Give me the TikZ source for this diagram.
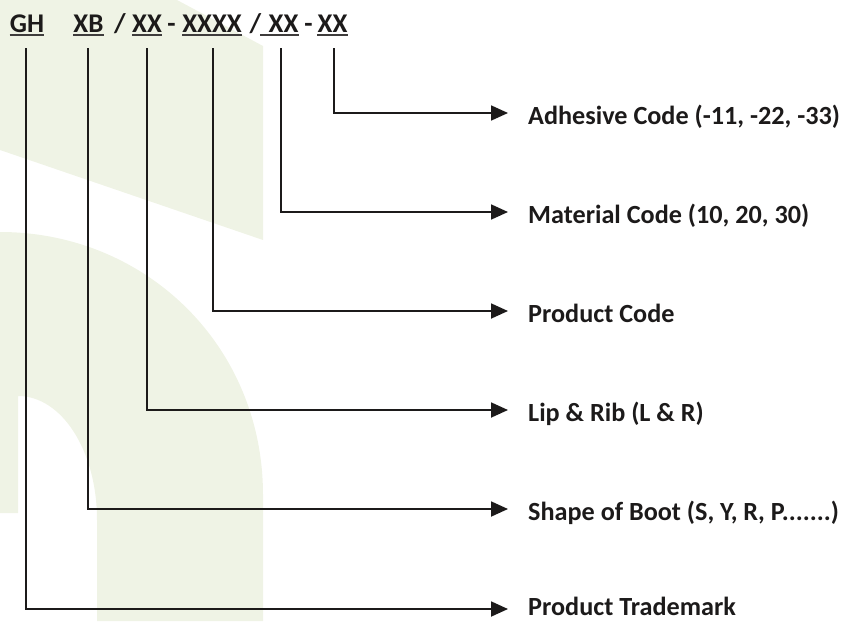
\documentclass[tikz,border=0pt]{standalone}
\usepackage{fontspec}
\setmainfont{Carlito}
\usetikzlibrary{arrows.meta}
\definecolor{bggreen}{RGB}{239,243,229}
\definecolor{ink}{RGB}{28,26,26}
\begin{document}
\begin{tikzpicture}[x=1pt,y=-1pt,
  code/.style={font=\bfseries\fontsize{27}{32}\selectfont, text=ink, inner sep=0pt, anchor=base},
  lbl/.style={font=\bfseries\fontsize{26.2}{31}\selectfont, text=ink, inner sep=0pt, anchor=base west},
  conn/.style={draw=ink, line width=1.8pt, -{Triangle[length=17pt,width=15pt]}},
  uline/.style={draw=ink!85, line width=1.4pt},
  bgshape/.style={fill=bggreen, draw=none}]
\useasboundingbox (0,0) rectangle (842,621);
% background logo shapes
\path[bgshape] (0,0) -- (177,0) -- (263,46) -- (263,240) -- (0,150) -- cycle;
\path[bgshape] (0,513) -- (0,232) .. controls (145,232) and (263,345) .. (263,495)
  -- (263,621) -- (97,621) -- (97,520) .. controls (97,451) and (62,396) .. (18,396)
  -- (18,513) -- cycle;
% header code
\node[code] (gh) at (27,32) {GH};
\node[code] (xb) at (88.5,32) {XB};
\node[code] (s1) at (120,32) {/};
\node[code] (lr) at (147,32) {XX};
\node[code] (d1) at (171.5,32) {-};
\node[code] (pc) at (212,32) {XXXX};
\node[code] (s2) at (255.5,32) {/};
\node[code] (mc) at (283.5,32) {XX};
\node[code] (d2) at (308.5,32) {-};
\node[code] (ac) at (332.5,32) {XX};
\foreach \n in {gh,xb,lr,pc,ac}
  \draw[uline] ([yshift=-3pt]\n.base west) -- ([yshift=-3pt]\n.base east);
\draw[uline] ([xshift=-8pt,yshift=-3pt]mc.base west) -- ([yshift=-3pt]mc.base east);
% vertical starts
\coordinate (v1) at (26,48);
\coordinate (v2) at (88,48);
\coordinate (v3) at (147,48);
\coordinate (v4) at (213,48);
\coordinate (v5) at (281,48);
\coordinate (v6) at (334,48);
% arrow ends
\coordinate (e6) at (508,113);
\coordinate (e5) at (508,212);
\coordinate (e4) at (508,311);
\coordinate (e3) at (508,410);
\coordinate (e2) at (508,509);
\coordinate (e1) at (508,609);
% labels
\node[lbl] (l6) at (528,124) {Adhesive Code (-11, -22, -33)};
\node[lbl] (l5) at (528,223) {Material Code (10, 20, 30)};
\node[lbl] (l4) at (528,322) {Product Code};
\node[lbl] (l3) at (528,421) {Lip \& Rib (L \& R)};
\node[lbl] (l2) at (528,520) {Shape of Boot (S, Y, R, P.......)};
\node[lbl] (l1) at (528,615) {Product Trademark};
% connectors
\draw[conn] (v6) |- (e6);
\draw[conn] (v5) |- (e5);
\draw[conn] (v4) |- (e4);
\draw[conn] (v3) |- (e3);
\draw[conn] (v2) |- (e2);
\draw[conn] (v1) |- (e1);
\end{tikzpicture}
\end{document}
